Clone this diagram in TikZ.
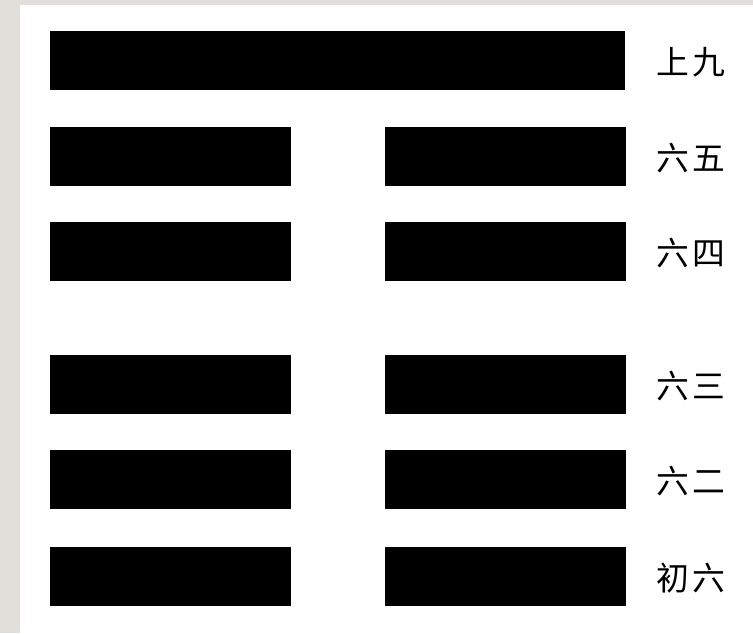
\documentclass[tikz,border=0pt]{standalone}
\usepackage{fontspec}
\usepackage{xcolor}
\usepackage{tikz}
\usetikzlibrary{positioning}
\newfontfamily\cjk{Noto Sans CJK SC}
\definecolor{paneborder}{RGB}{226,223,219}

\tikzset{
    yang/.style={fill=black, inner sep=0pt, minimum width=17.25cm, minimum height=1.77cm},
    yin/.style={fill=black, inner sep=0pt, minimum width=7.23cm, minimum height=1.77cm},
    yaoname/.style={font=\cjk\fontsize{28}{28}\selectfont, inner sep=0pt}
}
\newcommand{\yaogap}{\hspace{3pt}}

\begin{document}
\begin{tikzpicture}[x=0.03cm, y=-0.03cm]
    \fill[paneborder] (0,0) rectangle (753,633);
    \fill[white] (20,5) rectangle (753,633);
    \useasboundingbox (0,0) rectangle (753,633);

    % top line
    \node[yang] (l6) at (337.5,60) {};
    \node[yaoname] (n6) at (691,62) {上\yaogap 九};

    % broken lines
    \node[yin] (l5a) at (170.5,156.5) {};
    \node[yin] (l5b) at (505.5,156.5) {};
    \node[yaoname] (n5) at (691,158) {六\yaogap 五};

    \node[yin] (l4a) at (170.5,251.5) {};
    \node[yin] (l4b) at (505.5,251.5) {};
    \node[yaoname] (n4) at (691,253) {六\yaogap 四};

    \node[yin] (l3a) at (170.5,384) {};
    \node[yin] (l3b) at (505.5,384) {};
    \node[yaoname] (n3) at (691,386) {六\yaogap 三};

    \node[yin] (l2a) at (170.5,479) {};
    \node[yin] (l2b) at (505.5,479) {};
    \node[yaoname] (n2) at (691,481) {六\yaogap 二};

    \node[yin] (l1a) at (170.5,576) {};
    \node[yin] (l1b) at (505.5,576) {};
    \node[yaoname] (n1) at (691,578) {初\yaogap 六};
\end{tikzpicture}
\end{document}
